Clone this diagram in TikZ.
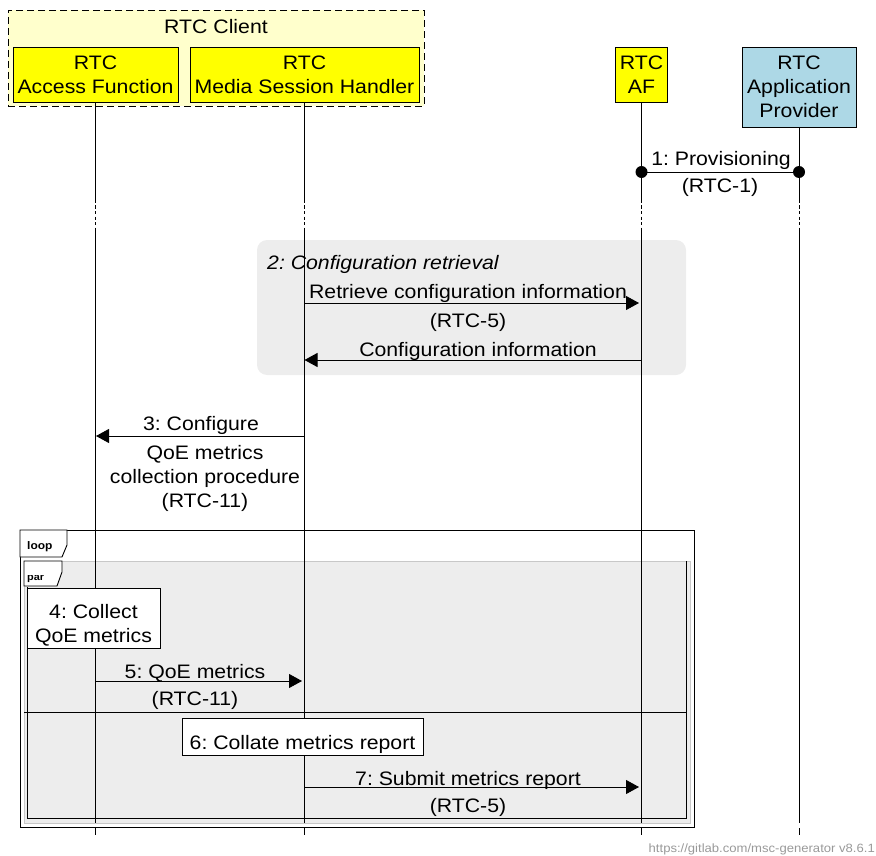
\documentclass[tikz,border=0pt]{standalone}
\usepackage{fontspec}
\setmainfont{Liberation Sans}[FakeStretch=1.09]
\usetikzlibrary{arrows.meta}
\definecolor{clientfill}{HTML}{FFFFCC}
\definecolor{actyellow}{HTML}{FFFF00}
\definecolor{provblue}{HTML}{ADD8E6}
\definecolor{boxgrey}{HTML}{EDEDED}
\definecolor{pargrey}{HTML}{C8C8C8}
\definecolor{footgrey}{HTML}{999999}
\frenchspacing
\begin{document}
\begin{tikzpicture}[x=1pt,y=-1pt,
  every node/.style={font=\fontsize{19.5}{24}\selectfont},
  actor/.style={draw, line width=0.9pt, align=center, inner sep=0pt},
  clientbox/.style={draw, line width=0.9pt, dash pattern=on 7pt off 4pt, fill=clientfill, inner sep=0pt, minimum width=416pt, minimum height=96pt},
  grpbox/.style={fill=boxgrey, rounded corners=10pt, inner sep=0pt, minimum width=429pt, minimum height=135pt},
  loopbox/.style={draw, line width=0.9pt, fill=white, inner sep=0pt, minimum width=674pt, minimum height=297pt},
  parbox/.style={draw=pargrey, line width=0.9pt, fill=boxgrey, inner sep=0pt, minimum width=666pt, minimum height=262pt},
  life/.style={line width=0.9pt},
  lifebreak/.style={line width=0.9pt, dash pattern=on 3pt off 2.5pt},
  msg/.style={line width=0.9pt, -{Triangle[length=13pt,width=14pt]}},
  plainline/.style={line width=0.9pt},
  lbl/.style={inner sep=0pt, anchor=base},
  notebox/.style={draw, line width=0.9pt, fill=white, align=center, inner sep=0pt},
  tagtext/.style={inner sep=0pt, anchor=base west, font=\fontsize{11}{12}\selectfont\bfseries}
]
\useasboundingbox (0,0) rectangle (876,856);

% client group
\node[clientbox] (client) at (216,58) {};
\node[lbl] (clientname) at (216,34) {RTC Client};

% actors
\node[actor, fill=actyellow, minimum width=165pt, minimum height=55pt] (af) at (95.5,74.5) {RTC\\Access Function};
\node[actor, fill=actyellow, minimum width=229pt, minimum height=55pt] (msh) at (304.5,74.5) {RTC\\Media Session Handler};
\node[actor, fill=actyellow, minimum width=52pt, minimum height=55pt] (raf) at (641.5,74.5) {RTC\\AF};
\node[actor, fill=provblue, minimum width=114pt, minimum height=80pt] (prov) at (799,87) {RTC\\Application\\Provider};

% group 2 background
\node[grpbox] (grp2) at (471.5,307.5) {};
\node[lbl, anchor=base west] (grp2lbl) at (267,269) {\itshape 2: Configuration retrieval};

% loop / par boxes
\node[loopbox] (loop) at (357,678.5) {};
\node[parbox] (par) at (357,692) {};

% lifelines
\foreach \n/\x in {af/95.5, msh/304.5, raf/641.5, prov/799} {
  \draw[life] (\n.south) -- (\x,200);
  \draw[lifebreak] (\x,200) -- (\x,229);
  \draw[life] (\x,229) -- (\x,823);
  \draw[life] (\x,828) -- (\x,835);
}

% par frame
\draw[plainline] (27,587) -- (27,818) -- (686,818) -- (686,561);
\draw[plainline] (24,712) -- (686,712);

% tags
\draw[line width=0.9pt, fill=white] (20,530) -- (67,530) -- (67,545) -- (62,557) -- (20,557) -- cycle;
\node[tagtext] (looptag) at (27,549) {loop};
\draw[line width=0.9pt, fill=white] (24,561) -- (62,561) -- (62,572) -- (57,586) -- (24,586) -- cycle;
\begin{scope}
  \clip (25,575) rectangle (60,585);
  \node[tagtext, font=\fontsize{10}{12}\selectfont\bfseries] (partag) at (27,580) {par};
\end{scope}

% notes
\node[notebox, minimum width=133pt, text height=54pt, text depth=6pt] (n4) at (93.5,618) {4: Collect\\QoE metrics};
\node[notebox, minimum width=241pt, text height=31pt, text depth=6pt] (n6) at (302.5,736.5) {6: Collate metrics report};

% message 1
\coordinate (m1a) at (641.5,172);
\coordinate (m1b) at (799,172);
\draw[plainline] (m1a) -- (m1b);
\fill (m1a) circle[radius=6pt];
\fill (m1b) circle[radius=6pt];
\node[lbl] (m1t) at (721,166) {1: Provisioning};
\node[lbl] (m1i) at (720,193) {(RTC-1)};

% group 2 messages
\coordinate (m2a) at (304.5,303);
\coordinate (m2b) at (639,303);
\draw[msg] (m2a) -- (m2b);
\node[lbl] (m2t) at (468,298) {Retrieve configuration information};
\node[lbl] (m2i) at (468,327) {(RTC-5)};
\coordinate (m3a) at (641.5,360);
\coordinate (m3b) at (304.5,360);
\draw[msg] (m3a) -- (m3b);
\node[lbl] (m3t) at (478,356) {Configuration information};

% message 3
\coordinate (m4a) at (304.5,436);
\coordinate (m4b) at (96,436);
\draw[msg] (m4a) -- (m4b);
\node[lbl] (m4t) at (201,430) {3: Configure};
\node[inner sep=0pt, anchor=north, align=center] (m4i) at (205,445) {QoE metrics\\collection procedure\\(RTC-11)};

% message 5
\coordinate (m5a) at (95.5,681);
\coordinate (m5b) at (302,681);
\draw[msg] (m5a) -- (m5b);
\node[lbl] (m5t) at (195,678) {5: QoE metrics};
\node[lbl] (m5i) at (195,705) {(RTC-11)};

% message 7
\coordinate (m7a) at (304.5,787);
\coordinate (m7b) at (639,787);
\draw[msg] (m7a) -- (m7b);
\node[lbl] (m7t) at (468,785) {7: Submit metrics report};
\node[lbl] (m7i) at (468,812) {(RTC-5)};

% footer
\node[inner sep=0pt, anchor=base east, text=footgrey, font=\fontsize{12}{14}\selectfont] (foot) at (875,852) {https://gitlab.com/msc-generator v8.6.1};
\end{tikzpicture}
\end{document}
